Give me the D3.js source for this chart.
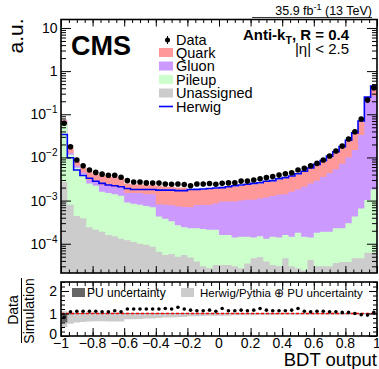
<!DOCTYPE html>
<html><head><meta charset="utf-8">
<script src="https://cdn.jsdelivr.net/npm/d3@7"></script>
<style>
html,body{margin:0;padding:0;background:#fff;}
svg text{font-family:"Liberation Sans",Arial,Helvetica,sans-serif;}
</style></head>
<body>
<svg id="chart" width="379" height="369"></svg>
<script>
// ---------------- DATA ----------------
// 50 bins of width 0.04 from -1 to 1
const binLow = d3.range(50).map(i => -1 + i * 0.04);
const binWidth = 0.04;

// Visible stack tops (cumulative, as drawn): Unassigned < +Pileup < +Gluon < +Quark
const unassignedTop = [0.0027,0.0008,0.00044,0.00039,0.00024,0.00021,0.00019,0.00016,0.00015,0.00013,
  0.00012,0.00011,0.00010,0.000095,0.000085,0.000065,0.000055,0.000058,0.00005,0.000055,
  0.000048,0.000039,0.00003,0.000027,0.000032,0.000032,0.000032,0.00003,0.000027,0.000035,
  0.000046,0.000049,0.000039,0.000032,0.00003,0.000046,0.00003,0.000027,0.000024,0.000042,
  0.00003,0.00003,0.00003,0.000036,0.000038,0.000038,0.000046,0.000046,0.000062,0.000062];
const pileupTop = [0.068,0.0115,0.0058,0.0040,0.0025,0.0022,0.0016,0.0015,0.0014,0.0013,
  0.0009,0.00085,0.0008,0.00075,0.0007,0.00043,0.00038,0.00033,0.00027,0.00024,
  0.00023,0.00023,0.00022,0.00021,0.00021,0.00016,0.00016,0.00014,0.000145,0.000145,
  0.00014,0.00015,0.00013,0.000145,0.00014,0.00016,0.000145,0.00018,0.000145,0.00014,
  0.00018,0.00019,0.00019,0.00023,0.00023,0.0003,0.00043,0.00066,0.00103,0.0018];
const gluonTop = [0.071,0.0128,0.0064,0.0045,0.0030,0.0027,0.0023,0.0022,0.0021,0.0020,
  0.0015,0.0015,0.0015,0.0014,0.0014,0.00082,0.0008,0.00078,0.00074,0.00071,
  0.0007,0.00079,0.00079,0.00079,0.00086,0.00095,0.00095,0.00095,0.001,0.00104,
  0.00105,0.00112,0.00118,0.00128,0.00136,0.0014,0.0016,0.0018,0.0021,0.0025,
  0.0029,0.0035,0.0043,0.0053,0.0071,0.01,0.0149,0.033,0.2,0.27];
const quarkTop = [0.075,0.0163,0.008,0.0059,0.0047,0.0041,0.0038,0.0036,0.0035,0.0033,
  0.0025,0.0024,0.0024,0.0023,0.0023,0.0022,0.0021,0.0021,0.002,0.002,
  0.00175,0.00178,0.0018,0.00185,0.0019,0.002,0.0021,0.0021,0.0022,0.0023,
  0.0024,0.0025,0.0027,0.0028,0.0031,0.0033,0.0036,0.0041,0.0047,0.0056,
  0.0067,0.0083,0.0104,0.0131,0.0172,0.0245,0.036,0.066,0.24,0.43];
const herwig = [0.034,0.0098,0.0051,0.0038,0.0033,0.0028,0.0025,0.0023,0.0022,0.0021,
  0.0019,0.0018,0.0018,0.0018,0.0018,0.00175,0.00175,0.00175,0.0017,0.0017,
  0.0018,0.00182,0.00185,0.0019,0.00195,0.002,0.0021,0.0022,0.0023,0.0024,
  0.0025,0.0026,0.0028,0.0029,0.0032,0.0034,0.0037,0.0042,0.0048,0.0057,
  0.0069,0.0085,0.0107,0.0135,0.0178,0.025,0.037,0.07,0.25,0.45];
const dataVals = [0.062,0.0177,0.0087,0.0064,0.0051,0.0045,0.0041,0.00385,0.00385,0.00347,
  0.0029,0.0027,0.0027,0.00257,0.00254,0.00254,0.00242,0.0024,0.00242,0.00235,
  0.0022,0.00242,0.00242,0.00249,0.0024,0.00251,0.00257,0.0026,0.00283,0.00283,
  0.003,0.0032,0.0034,0.0036,0.0039,0.0042,0.0044,0.0051,0.0056,0.0064,
  0.0073,0.0087,0.0108,0.0141,0.0183,0.0267,0.0394,0.078,0.213,0.41];

// Ratio panel
const ratioVals = [0.83,1.08,1.1,1.1,1.1,1.1,1.08,1.08,1.12,1.08,
  1.2,1.2,1.2,1.2,1.2,1.2,1.22,1.2,1.28,1.2,
  1.15,1.12,1.12,1.15,1.1,1.22,1.12,1.12,1.15,1.12,
  1.15,1.22,1.15,1.12,1.12,1.12,1.15,1.22,1.1,1.08,
  1.1,1.1,1.08,1.08,1.05,1.05,1.0,0.95,0.93,1.05];
const hpBandLow = [0.4,0.55,0.6,0.62,0.64,0.66,0.66,0.65,0.64,0.65,
  0.75,0.75,0.76,0.78,0.78,0.8,0.82,0.82,0.83,0.84,
  0.88,0.88,0.89,0.9,0.9,0.9,0.91,0.92,0.92,0.92,
  0.92,0.93,0.93,0.93,0.93,0.94,0.94,0.94,0.94,0.94,
  0.95,0.95,0.95,0.95,0.95,0.95,0.96,0.96,0.96,0.96];
const hpBandHigh = [1.1,1.03,1.03,1.03,1.03,1.03,1.03,1.03,1.03,1.03,
  1.02,1.02,1.02,1.02,1.02,1.02,1.02,1.02,1.02,1.02,
  1.02,1.02,1.02,1.02,1.02,1.02,1.02,1.02,1.02,1.02,
  1.02,1.02,1.02,1.02,1.02,1.02,1.02,1.02,1.02,1.02,
  1.02,1.02,1.02,1.02,1.02,1.02,1.02,1.02,1.02,1.02];
const puBandLow = [0.6,0.97,0.98,0.98,0.98,0.98,0.98,0.98,0.98,0.98,
  0.98,0.98,0.98,0.98,0.98,0.98,0.98,0.98,0.98,0.98,
  0.99,0.99,0.99,0.99,0.99,0.99,0.99,0.99,0.99,0.99,
  0.99,0.99,0.99,0.99,0.99,0.99,0.99,0.99,0.99,0.99,
  0.99,0.99,0.99,0.99,0.99,0.99,0.99,0.99,0.99,0.99];
const puBandHigh = [1.0,1.01,1.01,1.01,1.01,1.01,1.01,1.01,1.01,1.01,
  1.01,1.01,1.01,1.01,1.01,1.01,1.01,1.01,1.01,1.01,
  1.01,1.01,1.01,1.01,1.01,1.01,1.01,1.01,1.01,1.01,
  1.01,1.01,1.01,1.01,1.01,1.01,1.01,1.01,1.01,1.01,
  1.01,1.01,1.01,1.01,1.01,1.01,1.01,1.01,1.01,1.01];

const xTickValues = [-1,-0.8,-0.6,-0.4,-0.2,0,0.2,0.4,0.6,0.8,1];
const xTickLabels = ["\u22121","\u22120.8","\u22120.6","\u22120.4","\u22120.2","0","0.2","0.4","0.6","0.8","1"];
const yMainDecades = [-4,-3,-2,-1,0,1];
const yRatioTicks = [0,1,2];
const yRatioLabels = ["0","1","2"];

const legendLabels = ["Data","Quark","Gluon","Pileup","Unassigned","Herwig"];
const colors = {quark:"#ff9999", gluon:"#cc99ff", pileup:"#ccffcc", unassigned:"#cccccc", herwig:"#0000ff"};

// ---------------- LAYOUT ----------------
const svg = d3.select("#chart");
const L = 61, R = 377;
const mainTop = 19.5, mainBot = 273;
const ratTop = 282, ratBot = 336;

const x = d3.scaleLinear().domain([-1, 1]).range([L, R]);
const y = d3.scaleLog().domain([2.1e-5, 15.7]).range([mainBot, mainTop]);
const yr = d3.scaleLinear().domain([0, 2.4]).range([ratBot, ratTop]);

const defs = svg.append("defs");
defs.append("clipPath").attr("id","clipMain").append("rect")
  .attr("x",L).attr("y",mainTop).attr("width",R-L).attr("height",mainBot-mainTop);
defs.append("clipPath").attr("id","clipRat").append("rect")
  .attr("x",L).attr("y",ratTop).attr("width",R-L).attr("height",ratBot-ratTop);

function stepPts(vals){
  const pts = vals.map((v,i)=>[binLow[i], v]);
  pts.push([binLow[vals.length-1] + binWidth, vals[vals.length-1]]);
  return pts;
}
const gMain = svg.append("g").attr("clip-path","url(#clipMain)");
const areaMain = d3.area().curve(d3.curveStepAfter)
  .x(d=>x(d[0])).y0(mainBot).y1(d=>y(Math.max(d[1],1e-6)));
[[quarkTop,colors.quark],[gluonTop,colors.gluon],[pileupTop,colors.pileup],[unassignedTop,colors.unassigned]]
  .forEach(([vals,c])=>{
    gMain.append("path").attr("d",areaMain(stepPts(vals))).attr("fill",c).attr("stroke","none");
  });
const lineMain = d3.line().curve(d3.curveStepAfter).x(d=>x(d[0])).y(d=>y(d[1]));
gMain.append("path").attr("d",lineMain(stepPts(herwig)))
  .attr("fill","none").attr("stroke",colors.herwig).attr("stroke-width",1.6);
gMain.selectAll("circle.data").data(dataVals).join("circle")
  .attr("cx",(d,i)=>x(binLow[i]+binWidth/2)).attr("cy",d=>y(d)).attr("r",2.8).attr("fill","#000");

// axes main
const minorX = d3.range(0,41).map(i=>-1+i*0.05);
function xAxes(yBottom, yTop, major, minor){
  svg.append("g").attr("transform",`translate(0,${yBottom})`)
    .call(d3.axisBottom(x).tickValues(minorX).tickSize(-minor).tickFormat(""));
  svg.append("g").attr("transform",`translate(0,${yBottom})`)
    .call(d3.axisBottom(x).tickValues(xTickValues).tickSize(-major).tickFormat(""));
  svg.append("g").attr("transform",`translate(0,${yTop})`)
    .call(d3.axisTop(x).tickValues(minorX).tickSize(-minor).tickFormat(""));
  svg.append("g").attr("transform",`translate(0,${yTop})`)
    .call(d3.axisTop(x).tickValues(xTickValues).tickSize(-major).tickFormat(""));
}
xAxes(mainBot, mainTop, 7, 3.5);

const majorY = yMainDecades.map(e=>Math.pow(10,e));
const minorY = [];
for (let e=-5;e<=1;e++) for (let k=2;k<=9;k++){ const v=k*Math.pow(10,e); if (v>=2.1e-5 && v<=15.7) minorY.push(v); }
svg.append("g").attr("transform",`translate(${L},0)`).call(d3.axisLeft(y).tickValues(minorY).tickSize(-5).tickFormat(""));
svg.append("g").attr("transform",`translate(${L},0)`).call(d3.axisLeft(y).tickValues(majorY).tickSize(-10).tickFormat(""));
svg.append("g").attr("transform",`translate(${R},0)`).call(d3.axisRight(y).tickValues(minorY).tickSize(-5).tickFormat(""));
svg.append("g").attr("transform",`translate(${R},0)`).call(d3.axisRight(y).tickValues(majorY).tickSize(-10).tickFormat(""));
svg.selectAll(".domain").remove();
svg.selectAll(".tick line").attr("stroke","#000").attr("stroke-width",1);

svg.append("rect").attr("x",L).attr("y",mainTop).attr("width",R-L).attr("height",mainBot-mainTop)
  .attr("fill","none").attr("stroke","#000").attr("stroke-width",1.6);

// y labels main
yMainDecades.forEach(e=>{
  const t = svg.append("text").attr("x",57.5).attr("y",y(Math.pow(10,e))+5)
    .attr("text-anchor","end").attr("font-size",14).attr("fill","#000");
  if (e===0) t.text("1");
  else if (e===1) t.text("10");
  else {
    t.append("tspan").text("10");
    t.append("tspan").attr("font-size",10).attr("dy",-6).text("\u2212"+(-e));
  }
});

// titles
svg.append("text").attr("transform","translate(23,36) rotate(-90)").attr("text-anchor","middle")
  .attr("font-size",21).text("a.u.");
svg.append("text").attr("x",71).attr("y",55).attr("font-size",27).attr("font-weight","bold").text("CMS");
const lumi = svg.append("text").attr("x",372).attr("y",15).attr("text-anchor","end").attr("font-size",12.5);
lumi.append("tspan").text("35.9 fb");
lumi.append("tspan").attr("font-size",9).attr("dy",-5).text("-1");
lumi.append("tspan").attr("dy",5).text(" (13 TeV)");
svg.append("line").attr("x1",252).attr("x2",372).attr("y1",17.5).attr("y2",17.5).attr("stroke","#000").attr("stroke-width",0.8);

const ak = svg.append("text").attr("x",349).attr("y",40).attr("text-anchor","end").attr("font-size",15).attr("font-weight","bold");
ak.append("tspan").text("Anti-k");
ak.append("tspan").attr("font-size",10.5).attr("dy",4).text("T");
ak.append("tspan").attr("dy",-4).text(", R = 0.4");
svg.append("text").attr("x",349).attr("y",53.5).attr("text-anchor","end").attr("font-size",15).text("|\u03b7| < 2.5");

// legend
const legY = [40, 52.5, 66, 79.5, 93, 106.5];
const lg = svg.append("g");
lg.append("circle").attr("cx",167.5).attr("cy",legY[0]).attr("r",2.5).attr("fill","#000");
lg.append("line").attr("x1",167.5).attr("x2",167.5).attr("y1",legY[0]-4).attr("y2",legY[0]+4).attr("stroke","#000").attr("stroke-width",1);
[colors.quark,colors.gluon,colors.pileup,colors.unassigned].forEach((c,i)=>{
  lg.append("rect").attr("x",159).attr("y",legY[i+1]-4.5).attr("width",14).attr("height",9).attr("fill",c);
});
lg.append("line").attr("x1",159).attr("x2",173).attr("y1",legY[5]).attr("y2",legY[5]).attr("stroke",colors.herwig).attr("stroke-width",1.6);
legendLabels.forEach((t,i)=>{
  lg.append("text").attr("x",176).attr("y",legY[i]+5).attr("font-size",14.5).text(t);
});

// ---------------- RATIO PANEL ----------------
const gRat = svg.append("g").attr("clip-path","url(#clipRat)");
function bandPts(lo,hi){ return lo.map((v,i)=>({x0:binLow[i],lo:v,hi:hi[i]})).concat([{x0:binLow[49]+binWidth,lo:lo[49],hi:hi[49]}]); }
const bandArea = d3.area().curve(d3.curveStepAfter).x(d=>x(d.x0)).y0(d=>yr(d.lo)).y1(d=>yr(d.hi));
gRat.append("path").attr("d",bandArea(bandPts(hpBandLow,hpBandHigh))).attr("fill","#cccccc");
gRat.append("path").attr("d",bandArea(bandPts(puBandLow,puBandHigh))).attr("fill","#666666");
gRat.append("line").attr("x1",L).attr("x2",R).attr("y1",yr(1)).attr("y2",yr(1))
  .attr("stroke","#ff0000").attr("stroke-width",1.4).attr("stroke-dasharray","3,2");
gRat.selectAll("circle.r").data(ratioVals).join("circle")
  .attr("cx",(d,i)=>x(binLow[i]+binWidth/2)).attr("cy",d=>yr(d)).attr("r",1.8).attr("fill","#000");

xAxes(ratBot, ratTop, 8, 4);
const minorR = d3.range(0,13).map(i=>i*0.2);
svg.append("g").attr("transform",`translate(${L},0)`).call(d3.axisLeft(yr).tickValues(minorR).tickSize(-4).tickFormat(""));
svg.append("g").attr("transform",`translate(${L},0)`).call(d3.axisLeft(yr).tickValues(yRatioTicks).tickSize(-8).tickFormat(""));
svg.append("g").attr("transform",`translate(${R},0)`).call(d3.axisRight(yr).tickValues(minorR).tickSize(-4).tickFormat(""));
svg.append("g").attr("transform",`translate(${R},0)`).call(d3.axisRight(yr).tickValues(yRatioTicks).tickSize(-8).tickFormat(""));
svg.selectAll(".domain").remove();
svg.selectAll(".tick line").attr("stroke","#000").attr("stroke-width",1);
svg.append("rect").attr("x",L).attr("y",ratTop).attr("width",R-L).attr("height",ratBot-ratTop)
  .attr("fill","none").attr("stroke","#000").attr("stroke-width",1.6);

yRatioTicks.forEach((v,i)=>{
  svg.append("text").attr("x",57).attr("y",yr(v)+(v===0?3:5)).attr("text-anchor","end").attr("font-size",14).text(yRatioLabels[i]);
});
xTickValues.forEach((v,i)=>{
  svg.append("text").attr("x",x(v)).attr("y",348).attr("text-anchor","middle").attr("font-size",14).text(xTickLabels[i]);
});
svg.append("text").attr("x",377).attr("y",366).attr("text-anchor","end").attr("font-size",18.5).text("BDT output");

// ratio y title
svg.append("text").attr("transform","translate(18,310) rotate(-90)").attr("text-anchor","middle").attr("font-size",14).text("Data");
svg.append("line").attr("x1",21.5).attr("x2",21.5).attr("y1",278).attr("y2",343).attr("stroke","#000").attr("stroke-width",1);
svg.append("text").attr("transform","translate(34,311) rotate(-90)").attr("text-anchor","middle").attr("font-size",14).text("Simulation");

// ratio legend
svg.append("rect").attr("x",72).attr("y",288).attr("width",13).attr("height",9).attr("fill","#666666");
svg.append("text").attr("x",87).attr("y",297).attr("font-size",12).text("PU uncertainty");
svg.append("rect").attr("x",181).attr("y",288).attr("width",13).attr("height",9).attr("fill","#cccccc");
svg.append("text").attr("x",200).attr("y",297).attr("font-size",11.5).text("Herwig/Pythia \u2295 PU uncertainty");
</script>
</body></html>
